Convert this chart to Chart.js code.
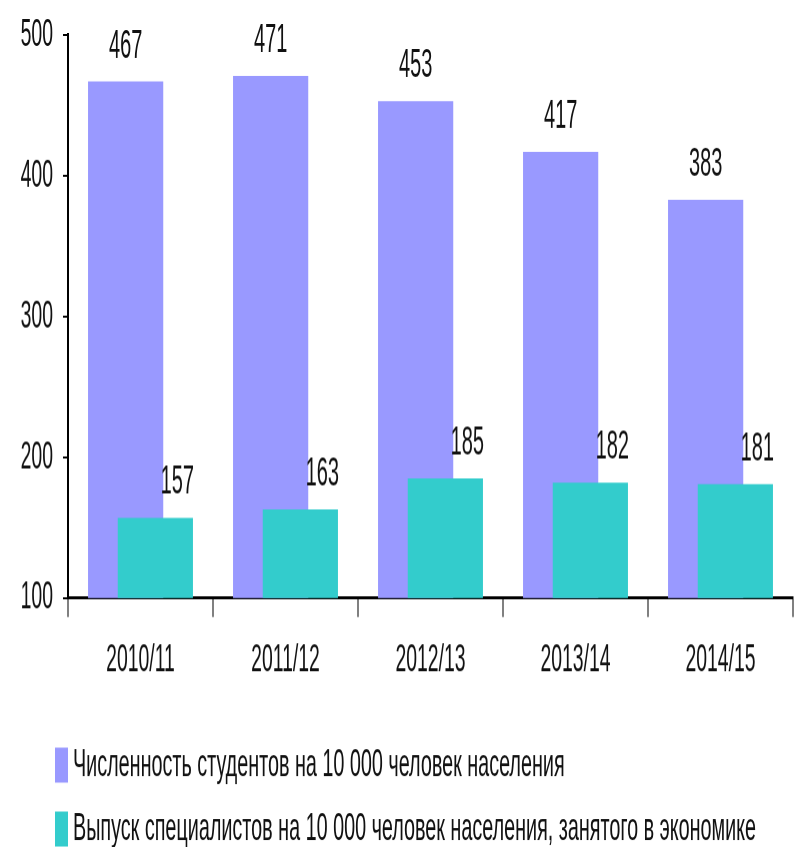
<!DOCTYPE html>
<html>
<head>
<meta charset="utf-8">
<script src="https://cdn.jsdelivr.net/npm/chart.js@4.4.1/dist/chart.umd.min.js"></script>
<style>
  html, body { margin: 0; padding: 0; background: #fff; }
  #chart { display: block; }
</style>
</head>
<body>
<!-- the source picture is stretched ~2x vertically: the chart is drawn at half height
     and the canvas is shown at full height through its css size -->
<canvas id="chart" width="798" height="424" style="width:798px;height:847px"></canvas>
<script>
const seasons = ["2010/11", "2011/12", "2012/13", "2013/14", "2014/15"];
const students = [467, 471, 453, 417, 383];
const graduates = [157, 163, 185, 182, 181];
const seriesNames = [
  "Численность студентов на 10 000 человек населения",
  "Выпуск специалистов на 10 000 человек населения, занятого в экономике",
];
const yTicks = [100, 200, 300, 400, 500];

const purple = "#9999ff";
const teal = "#33cccc";
const ink = "#111";
const fontFamily = '"Liberation Sans", Arial, sans-serif';

// purple has to stay on the left of each pair but be painted under the teal bar
const drawOrder = {
  id: "drawOrder",
  beforeDatasetsDraw(chart) {
    const { ctx, chartArea } = chart;
    ctx.save();
    ctx.beginPath();
    ctx.rect(chartArea.left, chartArea.top - 40, chartArea.right - chartArea.left, chartArea.bottom - chartArea.top + 40);
    ctx.clip();
    chart.getDatasetMeta(0).controller.draw();
    chart.getDatasetMeta(1).controller.draw();
    ctx.restore();
    return false;
  },
};

// value labels + the legend down below
const labelsAndLegend = {
  id: "labelsAndLegend",
  afterDraw(chart) {
    const ctx = chart.ctx;
    ctx.save();
    ctx.fillStyle = ink;
    ctx.font = "20px " + fontFamily;
    ctx.textBaseline = "alphabetic";

    chart.getDatasetMeta(0).data.forEach((bar, i) => {
      ctx.textAlign = "center";
      ctx.fillText(chart.data.datasets[0].data[i], bar.x, bar.y - 12);
    });
    chart.getDatasetMeta(1).data.forEach((bar, i) => {
      ctx.textAlign = "right";
      ctx.fillText(chart.data.datasets[1].data[i], bar.x + bar.width / 2 + 1, bar.y - 12);
    });

    // legend rows
    const rows = [383, 415];
    ctx.font = "19.8px " + fontFamily;
    ctx.textAlign = "left";
    ctx.textBaseline = "middle";
    chart.data.datasets.forEach((ds, i) => {
      ctx.fillStyle = ds.backgroundColor;
      ctx.fillRect(55, rows[i] - 8.75, 13, 17.5);
      ctx.fillStyle = ink;
      ctx.fillText(ds.label, 73, rows[i]);
    });
    ctx.restore();
  },
};

const chart = new Chart(document.getElementById("chart"), {
  type: "bar",
  data: {
    labels: seasons,
    datasets: [
      {
        label: seriesNames[0],
        data: students,
        backgroundColor: purple,
        borderWidth: 0,
      },
      {
        label: seriesNames[1],
        data: graduates,
        backgroundColor: teal,
        borderWidth: 0,
      },
    ],
  },
  options: {
    responsive: false,
    devicePixelRatio: 2,
    animation: false,
    categoryPercentage: 0.41,
    barPercentage: 2.53,
    layout: {
      padding: { top: 17.5, right: 5, bottom: 84.6, left: 0 },
    },
    plugins: {
      legend: { display: false },
      tooltip: { enabled: false },
    },
    scales: {
      x: {
        afterFit(scale) {
          scale.height = 40;
          scale.paddingLeft = 0;
          scale.paddingRight = 0;
        },
        ticks: {
          color: ink,
          padding: 10,
          font: { family: fontFamily, size: 19.4 },
        },
        grid: {
          offset: true,
          drawOnChartArea: false,
          tickLength: 9.5,
          color: "#000",
          lineWidth: 1,
        },
        border: { color: "#000", width: 1.5 },
      },
      y: {
        min: 100,
        max: 500,
        afterFit(scale) {
          scale.width = 68;
          scale.paddingTop = 0;
          scale.paddingBottom = 0;
        },
        afterBuildTicks(scale) {
          scale.ticks = yTicks.map((v) => ({ value: v }));
        },
        ticks: {
          color: ink,
          padding: 10,
          font: { family: fontFamily, size: 19.4 },
        },
        grid: {
          drawOnChartArea: false,
          tickLength: 5,
          color: "#000",
          lineWidth: 1,
        },
        border: { color: "#000", width: 2 },
      },
    },
  },
  plugins: [drawOrder, labelsAndLegend],
});
</script>
</body>
</html>
